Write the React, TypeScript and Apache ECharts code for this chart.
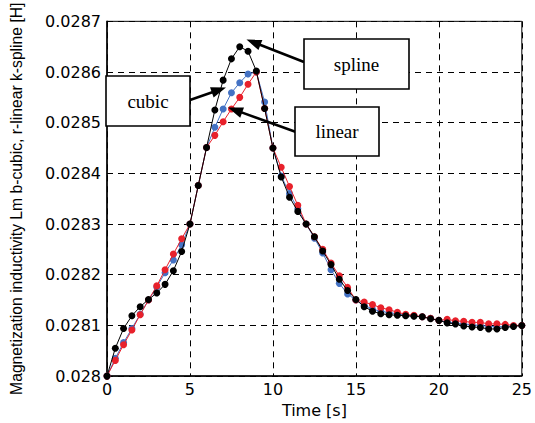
import React, { useEffect, useRef } from "react";
import * as echarts from "echarts";

const times = [
  0, 0.5, 1, 1.5, 2, 2.5, 3, 3.5, 4, 4.5, 5, 5.5, 6, 6.5, 7, 7.5, 8, 8.5, 9, 9.5, 10,
  10.5, 11, 11.5, 12, 12.5, 13, 13.5, 14, 14.5, 15, 15.5, 16, 16.5, 17, 17.5, 18, 18.5,
  19, 19.5, 20, 20.5, 21, 21.5, 22, 22.5, 23, 23.5, 24, 24.5, 25,
];

const cubic = [
  0.028, 0.028035, 0.028066, 0.028094, 0.028122, 0.02815, 0.028176, 0.028204, 0.028229,
  0.028259, 0.0283, 0.028376, 0.028451, 0.028491, 0.028527, 0.028559, 0.028579, 0.028596,
  0.0286, 0.028541, 0.02845, 0.028395, 0.02836, 0.02833, 0.0283, 0.028272, 0.028243,
  0.02821, 0.028183, 0.028162, 0.02815, 0.02814, 0.028132, 0.028128, 0.028125, 0.028123,
  0.02812, 0.028119, 0.028117, 0.028114, 0.02811, 0.028107, 0.028105, 0.028103, 0.028101,
  0.0281, 0.028098, 0.028097, 0.028098, 0.028099, 0.0281,
];

const linear = [
  0.028, 0.028031, 0.028062, 0.028091, 0.028121, 0.02815, 0.028178, 0.02821, 0.028241,
  0.028271, 0.0283, 0.028376, 0.028451, 0.028475, 0.028502, 0.028527, 0.02855, 0.028576,
  0.0286, 0.028528, 0.02845, 0.028412, 0.028374, 0.028337, 0.0283, 0.028275, 0.02825,
  0.028223, 0.028198, 0.028175, 0.02815, 0.028146, 0.028141, 0.028135, 0.028131, 0.028126,
  0.028122, 0.02812, 0.028117, 0.028114, 0.02811, 0.028112, 0.028109, 0.028108, 0.028106,
  0.028106, 0.028103, 0.028103, 0.028102, 0.0281, 0.0281,
];

const spline = [
  0.028, 0.028055, 0.028094, 0.028119, 0.028137, 0.028151, 0.028164, 0.028181, 0.028208,
  0.028246, 0.0283, 0.028376, 0.028451, 0.028525, 0.028584, 0.028626, 0.02865, 0.028641,
  0.028602, 0.028528, 0.02845, 0.028393, 0.028353, 0.028325, 0.0283, 0.028275, 0.028247,
  0.02822, 0.028191, 0.028169, 0.028151, 0.028137, 0.028128, 0.028123, 0.028121, 0.02812,
  0.028119, 0.028118, 0.028117, 0.028113, 0.02811, 0.028105, 0.028103, 0.028099, 0.028097,
  0.028096, 0.028093, 0.028093, 0.028096, 0.028098, 0.0281,
];

const annotations = [
  { text: "cubic", box: [106, 76, 84, 50], from: [190, 100], to: [226, 87.5] },
  { text: "spline", box: [304, 39, 105, 50], from: [304, 62], to: [246.5, 39.5] },
  { text: "linear", box: [295, 107, 84, 49], from: [296, 132], to: [228, 107.5] },
];

function arrowElements(from: number[], to: number[]) {
  const dx = to[0] - from[0];
  const dy = to[1] - from[1];
  const len = Math.sqrt(dx * dx + dy * dy);
  const ux = dx / len;
  const uy = dy / len;
  const L = 15;
  const W = 5.5;
  const bx = to[0] - L * ux;
  const by = to[1] - L * uy;
  const nx = -uy;
  const ny = ux;
  return [
    {
      type: "line",
      z: 100,
      shape: { x1: from[0], y1: from[1], x2: bx + ux * 2, y2: by + uy * 2 },
      style: { stroke: "#000", lineWidth: 2.5 },
    },
    {
      type: "polygon",
      z: 100,
      shape: {
        points: [
          [to[0], to[1]],
          [bx + W * nx, by + W * ny],
          [bx - W * nx, by - W * ny],
        ],
      },
      style: { fill: "#000" },
    },
  ];
}

export default function App() {
  const ref = useRef<HTMLDivElement>(null);
  useEffect(() => {
    if (!ref.current) return;
    const chart = echarts.init(ref.current, undefined, { renderer: "svg" });
    const mk = (vals: number[]) => times.map((t, i) => [t, vals[i]]);
    const graphic: any[] = [];
    annotations.forEach((a) => {
      graphic.push(...arrowElements(a.from, a.to));
      graphic.push({
        type: "rect",
        z: 101,
        shape: { x: a.box[0], y: a.box[1], width: a.box[2], height: a.box[3] },
        style: { fill: "#fff", stroke: "#000", lineWidth: 1.6 },
      });
      graphic.push({
        type: "text",
        z: 102,
        x: a.box[0] + a.box[2] / 2,
        y: a.box[1] + a.box[3] / 2,
        style: {
          text: a.text,
          fill: "#000",
          font: '19px "Liberation Serif"',
          align: "center",
          verticalAlign: "middle",
        },
      });
    });
    const dash = { type: [6, 5] as any, color: "#000", width: 1 };
    chart.setOption({
      animation: false,
      backgroundColor: "#fff",
      grid: {
        left: 106,
        right: 9,
        top: 10,
        bottom: 46,
        show: true,
        borderColor: "#000",
        borderWidth: 1,
        backgroundColor: "transparent",
      },
      xAxis: {
        type: "value",
        min: 0,
        max: 25,
        interval: 5,
        name: "Time [s]",
        nameLocation: "middle",
        nameGap: 22,
        nameTextStyle: { fontFamily: "DejaVu Sans", fontSize: 16, color: "#000" },
        axisLine: { show: true, lineStyle: { color: "#000", width: 1.5 } },
        axisTick: { show: false },
        axisLabel: { fontFamily: "DejaVu Sans", fontSize: 16, color: "#000", margin: 5 },
        splitLine: { show: true, lineStyle: dash },
      },
      yAxis: {
        type: "value",
        min: 0.028,
        max: 0.0287,
        interval: 0.0001,
        name: "Magnetization inductivity Lm b-cubic, r-linear k-spline [H]",
        nameLocation: "middle",
        nameGap: 83,
        nameTextStyle: { fontFamily: "Liberation Sans", fontSize: 15.7, color: "#000" },
        axisLine: { show: true, lineStyle: { color: "#000", width: 1.5 } },
        axisTick: { show: false },
        axisLabel: {
          fontFamily: "DejaVu Sans",
          fontSize: 16,
          color: "#000",
          margin: 6,
          formatter: (v: number) => v.toFixed(4).replace(/0+$/, ""),
        },
        splitLine: { show: true, lineStyle: dash },
      },
      series: [
        {
          name: "cubic",
          type: "line",
          data: mk(cubic),
          symbol: "circle",
          symbolSize: 7,
          showSymbol: true,
          lineStyle: { color: "#4472c4", width: 1 },
          itemStyle: { color: "#4472c4" },
          z: 3,
        },
        {
          name: "linear",
          type: "line",
          data: mk(linear),
          symbol: "circle",
          symbolSize: 7,
          lineStyle: { color: "#e8212b", width: 1 },
          itemStyle: { color: "#e8212b" },
          z: 4,
        },
        {
          name: "spline",
          type: "line",
          data: mk(spline),
          symbol: "circle",
          symbolSize: 7,
          lineStyle: { color: "#000", width: 1 },
          itemStyle: { color: "#000" },
          z: 5,
        },
      ],
      graphic,
    });
    return () => chart.dispose();
  }, []);
  return (
    <div
      ref={ref}
      style={{ position: "fixed", left: 0, top: 0, width: 535, height: 423 }}
    />
  );
}
